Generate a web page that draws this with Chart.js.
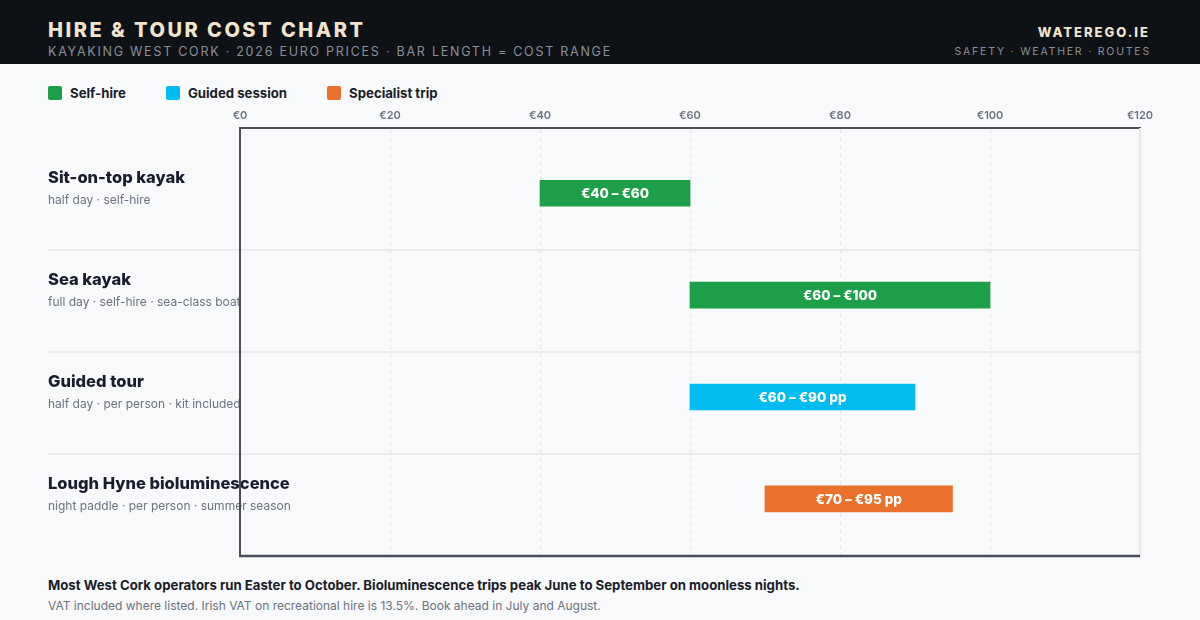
<!DOCTYPE html>
<html>
<head>
<meta charset="utf-8">
<script src="https://cdn.jsdelivr.net/npm/chart.js@4.4.1/dist/chart.umd.min.js"></script>
<style>
  * { margin: 0; padding: 0; box-sizing: border-box; }
  body { width: 1200px; height: 620px; background: #f8f9fb; font-family: Inter, "Noto Sans", sans-serif; position: relative; overflow: hidden; }
  .head { position: absolute; left: 0; top: 0; width: 1200px; height: 64px; background: #0e1116; }
  .head .t { position: absolute; left: 48px; top: 18px; font-size: 20px; font-weight: 800; letter-spacing: 2.5px; color: #f0e4cd; }
  .head .s { position: absolute; left: 48px; top: 44px; font-size: 12.5px; letter-spacing: 1.75px; color: #8a9099; }
  .head .r1 { position: absolute; right: 50px; top: 24px; font-size: 13px; font-weight: 800; letter-spacing: 2px; color: #f0e4cd; }
  .head .r2 { position: absolute; right: 49px; top: 45px; font-size: 10.5px; letter-spacing: 1.8px; color: #8a9099; }
  .legend { position: absolute; left: 48px; top: 85px; display: flex; font-size: 13.2px; font-weight: 700; color: #1a1d29; }
  .legend span { display: flex; align-items: center; margin-right: 40px; }
  .legend i { width: 14px; height: 14px; border-radius: 2px; margin-right: 8px; display: inline-block; }
  #wrap { position: absolute; left: 0; top: 64px; width: 1200px; height: 506px; }
  .foot1 { position: absolute; left: 48px; top: 577px; font-size: 13.2px; font-weight: 700; color: #1a1d29; }
  .foot2 { position: absolute; left: 48px; top: 598px; font-size: 12px; color: #6b7280; }
</style>
</head>
<body>
<div class="head">
  <div class="t">HIRE &amp; TOUR COST CHART</div>
  <div class="s">KAYAKING WEST CORK · 2026 EURO PRICES · BAR LENGTH = COST RANGE</div>
  <div class="r1">WATEREGO.IE</div>
  <div class="r2">SAFETY · WEATHER · ROUTES</div>
</div>
<div class="legend" id="legend"></div>
<div id="wrap"><canvas id="chart"></canvas></div>
<div class="foot1">Most West Cork operators run Easter to October. Bioluminescence trips peak June to September on moonless nights.</div>
<div class="foot2">VAT included where listed. Irish VAT on recreational hire is 13.5%. Book ahead in July and August.</div>
<script>
// data
const rows = ['Sit-on-top kayak', 'Sea kayak', 'Guided tour', 'Lough Hyne bioluminescence'];
const details = [
  'half day · self-hire',
  'full day · self-hire · sea-class boat',
  'half day · per person · kit included',
  'night paddle · per person · summer season'
];
const lows = [40, 60, 60, 70];
const highs = [60, 100, 90, 95];
const kinds = ['Self-hire', 'Self-hire', 'Guided session', 'Specialist trip'];
const barText = ['€40 – €60', '€60 – €100', '€60 – €90 pp', '€70 – €95 pp'];
const groups = ['Self-hire', 'Guided session', 'Specialist trip'];
const groupColors = ['#1d9e49', '#00bcf1', '#e9712c'];
const xTicks = [0, 20, 40, 60, 80, 100, 120];

// legend
document.getElementById('legend').innerHTML = groups.map((g, i) =>
  `<span><i style="background:${groupColors[i]}"></i>${g}</span>`).join('');

const datasets = groups.map((g, gi) => ({
  label: g,
  data: rows.map((r, i) => kinds[i] === g ? { x: [lows[i], highs[i]], y: i } : null).filter(d => d),
  backgroundColor: groupColors[gi],
  barThickness: 26,
  grouped: false,
  borderSkipped: false
}));

const rowDecor = {
  id: 'rowDecor',
  beforeDraw(chart) {
    const { ctx, chartArea, scales: { y } } = chart;
    ctx.save();
    // separators between rows
    ctx.strokeStyle = '#e8eaee';
    ctx.lineWidth = 2;
    for (let i = 0; i < rows.length - 1; i++) {
      const py = Math.round(y.getPixelForValue(i + 0.56));
      ctx.beginPath();
      ctx.moveTo(48, py);
      ctx.lineTo(chartArea.right, py);
      ctx.stroke();
    }
    // row labels
    ctx.textBaseline = 'middle';
    rows.forEach((r, i) => {
      const py = y.getPixelForValue(i);
      ctx.fillStyle = '#1a1d2e';
      ctx.font = '800 16.5px Inter';
      ctx.fillText(r, 48, py - 15);
      ctx.fillStyle = '#6b7280';
      ctx.font = '400 12px Inter';
      ctx.fillText(details[i], 48, py + 7);
    });
    ctx.restore();
  },
  afterDraw(chart) {
    const { ctx, chartArea } = chart;
    ctx.save();
    ctx.strokeStyle = '#e6e8ec';
    ctx.lineWidth = 2;
    ctx.beginPath();
    ctx.moveTo(chartArea.right, chartArea.top);
    ctx.lineTo(chartArea.right, chartArea.bottom + 2);
    ctx.stroke();
    ctx.strokeStyle = '#4a4e5a';
    ctx.lineWidth = 2.5;
    ctx.beginPath();
    ctx.moveTo(chartArea.left - 1, chartArea.bottom);
    ctx.lineTo(chartArea.right, chartArea.bottom);
    ctx.stroke();
    ctx.restore();
  },
  afterDatasetsDraw(chart) {
    const { ctx } = chart;
    ctx.save();
    ctx.fillStyle = '#ffffff';
    ctx.font = '800 13.5px Inter';
    ctx.textAlign = 'center';
    ctx.textBaseline = 'middle';
    chart.data.datasets.forEach((ds, di) => {
      chart.getDatasetMeta(di).data.forEach((bar, j) => {
        const idx = ds.data[j].y;
        const p = bar.getProps(['x', 'y', 'base']);
        ctx.fillText(barText[idx], (p.x + p.base) / 2, p.y + 1);
      });
    });
    ctx.restore();
  }
};

new Chart(document.getElementById('chart'), {
  type: 'bar',
  data: { datasets },
  options: {
    indexAxis: 'y',
    responsive: true,
    maintainAspectRatio: false,
    animation: false,
    layout: { padding: { left: 0, right: 60, top: 0, bottom: 14 } },
    plugins: { legend: { display: false }, tooltip: { enabled: false } },
    scales: {
      x: {
        type: 'linear',
        position: 'top',
        min: 0,
        max: 120,
        afterBuildTicks: s => { s.ticks = xTicks.map(v => ({ value: v })); },
        afterFit: s => { s.height = 64; },
        ticks: {
          padding: 6,
          color: '#6b7280',
          font: { family: 'Inter', size: 11, weight: '600' },
          callback: v => '€' + v
        },
        grid: { color: '#e3e5ea', lineWidth: 1, drawTicks: false },
        border: { display: true, color: '#4a4e5a', width: 2, dash: [4, 4] }
      },
      y: {
        type: 'linear',
        reverse: true,
        offset: false,
        min: -0.64,
        max: 3.56,
        afterFit: s => { s.width = 240; },
        ticks: { display: false },
        grid: { display: false, offset: false },
        border: { display: true, color: '#4a4e5a', width: 2 }
      }
    }
  },
  plugins: [rowDecor]
});
</script>
</body>
</html>
